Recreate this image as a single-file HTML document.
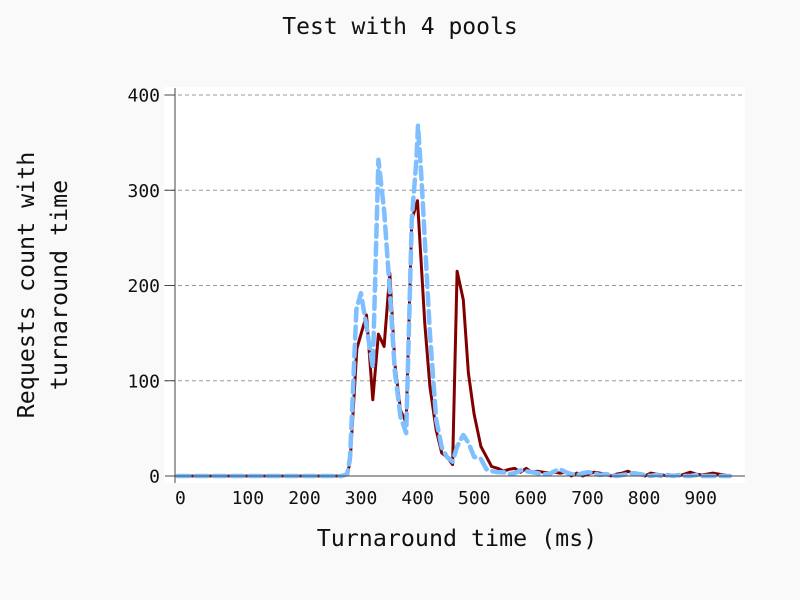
<!DOCTYPE html>
<html><head><meta charset="utf-8"><style>
html,body{margin:0;padding:0;background:#f9f9f9;}
svg{display:block;font-family:"DejaVu Sans Mono","Liberation Mono",monospace;}
</style></head><body>
<svg width="800" height="600" viewBox="0 0 800 600">
<rect x="0" y="0" width="800" height="600" fill="#f9f9f9"/>
<rect x="164" y="87" width="581" height="396" fill="#ffffff"/>
<g id="grid"></g>
<g id="series"></g>
<line x1="175" y1="88" x2="175" y2="483" stroke="#444" stroke-width="1"/>
<line x1="175" y1="476" x2="745" y2="476" stroke="#444" stroke-width="1"/>
<g id="ticks"></g>
<text x="400" y="34" text-anchor="middle" font-size="23" fill="#111">Test with 4 pools</text>
<text x="457" y="546" text-anchor="middle" font-size="23.3" fill="#111">Turnaround time (ms)</text>
<text transform="translate(34,285) rotate(-90)" text-anchor="middle" font-size="23.3" fill="#111"><tspan x="0" y="0">Requests count with</tspan><tspan x="0" y="33">turnaround time</tspan></text>
</svg>
<script>
const xTicks = [0,100,200,300,400,500,600,700,800,900];
const yTicks = [0,100,200,300,400];
const redX = [0,10,20,30,40,50,60,70,80,90,100,110,120,130,140,150,160,170,180,190,200,210,220,230,240,250,260,270,280,290,300,305,317,334,345,355,365,375,384,394,404,414,424,437,446,457,467,476,486,494,505,514,524,536,546,555,566,576,586,596,606,616,626,636,646,656,666,676,686,696,706,716,726,736,746,756,766,776,786,796,806,816,826,836,846,856,866,876,886,896,906,916,926,936,946,956,966,976];
const redY = [0,0,0,0,0,0,0,0,0,0,0,0,0,0,0,0,0,0,0,0,0,0,0,0,0,0,0,0,0,0,2,15,134,169,80,149,136,213,118,69,56,269,289,160,94,48,24,20,12,215,185,108,65,31,20,10,8,5,7,8,4,8,4,5,4,3,4,3,4,0,3,0,2,4,3,2,0,2,3,5,2,2,0,3,2,1,0,1,0,2,4,2,1,2,3,2,1,0];
const blueX = [0,10,20,30,40,50,60,70,80,90,100,110,120,130,140,150,160,170,180,190,200,210,220,230,240,250,260,270,280,290,300,305,316,324,334,345,355,365,375,384,394,404,414,422,425,431,446,457,467,476,486,494,505,514,524,536,546,555,566,576,586,596,606,616,626,636,646,656,666,676,686,696,706,716,726,736,746,756,766,776,786,796,806,816,826,836,846,856,866,876,886,896,906,916,926,936,946,956,966,976];
const blueY = [0,0,0,0,0,0,0,0,0,0,0,0,0,0,0,0,0,0,0,0,0,0,0,0,0,0,0,0,0,0,2,20,175,192,157,114,332,279,195,110,62,45,270,332,368,314,150,59,30,20,15,31,43,35,20,18,7,5,4,4,2,3,6,5,4,3,2,2,5,7,4,2,1,3,4,3,1,2,1,0,1,2,3,2,1,0,1,0,1,0,1,0,0,1,0,0,0,0,0,0];
const NS='http://www.w3.org/2000/svg';
function xs(v){return 177.5+0.566*v;}
function ys(v){return 476-0.9525*v;}
const grid=document.getElementById('grid'), ticks=document.getElementById('ticks'), series=document.getElementById('series');
yTicks.forEach(t=>{
  if(t>0){
    const g=document.createElementNS(NS,'line');
    
    
    g.setAttribute('x1',164);g.setAttribute('x2',745);g.setAttribute('y1',ys(t));g.setAttribute('y2',ys(t));
    g.setAttribute('stroke','#999');g.setAttribute('stroke-dasharray','4,3');g.setAttribute('stroke-width','1');
    grid.appendChild(g);
  }
  const tk=document.createElementNS(NS,'line');
  
  
  tk.setAttribute('x1',165);tk.setAttribute('x2',175);tk.setAttribute('y1',ys(t));tk.setAttribute('y2',ys(t));
  tk.setAttribute('stroke','#444');
  ticks.appendChild(tk);
  const tx=document.createElementNS(NS,'text');
  
  
  tx.setAttribute('x',160);tx.setAttribute('y',ys(t)+6.5);tx.setAttribute('text-anchor','end');
  tx.setAttribute('font-size','18');tx.setAttribute('fill','#111');tx.textContent=t;
  ticks.appendChild(tx);
});
xTicks.forEach(t=>{
  const tx=document.createElementNS(NS,'text');
  
  
  tx.setAttribute('x',xs(t)-2.5);tx.setAttribute('y',504);
  tx.setAttribute('font-size','18');tx.setAttribute('fill','#111');tx.textContent=t;
  ticks.appendChild(tx);
});
function pts(X,Y){return X.map((v,i)=>xs(v).toFixed(1)+','+ys(Y[i]).toFixed(1)).join(' ');}
const red=document.createElementNS(NS,'polyline');


red.setAttribute('points',pts(redX,redY));red.setAttribute('fill','none');
red.setAttribute('stroke','#800000');red.setAttribute('stroke-width','3');red.setAttribute('stroke-linejoin','round');
series.appendChild(red);
const blue=document.createElementNS(NS,'polyline');


blue.setAttribute('points',pts(blueX,blueY));blue.setAttribute('fill','none');
blue.setAttribute('stroke','#7fbfff');blue.setAttribute('stroke-width','4.5');
blue.setAttribute('stroke-dasharray','12,6');blue.setAttribute('stroke-linecap','round');blue.setAttribute('stroke-linejoin','round');
series.appendChild(blue);
</script>
</body></html>
